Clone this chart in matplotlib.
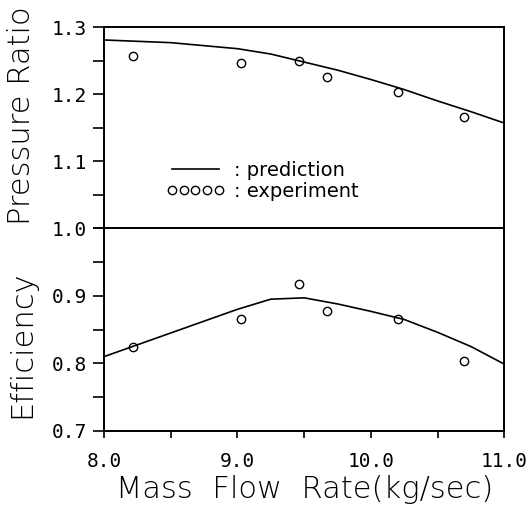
import matplotlib
matplotlib.use("Agg")
import matplotlib.pyplot as plt
from matplotlib.ticker import MultipleLocator, FixedLocator

# prediction curves
pred_flow = [8.0, 8.5, 9.0, 9.25, 9.5, 9.75, 10.0, 10.25, 10.5, 10.75, 11.0]
pred_pr = [1.281, 1.277, 1.268, 1.260, 1.248, 1.236, 1.222, 1.207, 1.190, 1.174, 1.157]
pred_eff = [0.810, 0.845, 0.880, 0.895, 0.897, 0.888, 0.877, 0.865, 0.846, 0.825, 0.799]

# experiment points
exp_flow = [8.22, 9.03, 9.46, 9.67, 10.20, 10.70]
exp_pr = [1.257, 1.246, 1.249, 1.225, 1.204, 1.166]
exp_eff = [0.824, 0.866, 0.918, 0.878, 0.866, 0.803]

x_ticks = [8.0, 9.0, 10.0, 11.0]
x_labels = ["8.0", "9.0", "10.0", "11.0"]
pr_ticks = [1.0, 1.1, 1.2, 1.3]
eff_ticks = [0.7, 0.8, 0.9]

lab_font = dict(family="DejaVu Sans", fontweight="light")
tick_font = "DejaVu Sans Mono"

fig = plt.figure(figsize=(5.28, 5.14), dpi=100)
ax1 = fig.add_axes([0.197, 0.556, 0.758, 0.391])
ax2 = fig.add_axes([0.197, 0.1615, 0.758, 0.3945])

for ax in (ax1, ax2):
    ax.set_xlim(8.0, 11.0)
    for s in ax.spines.values():
        s.set_linewidth(1.4)
    ax.tick_params(axis="y", which="both", direction="out", length=8, width=1.2, pad=4)
    ax.tick_params(axis="x", which="both", direction="out", length=5, width=1.2, pad=10)

# top panel: pressure ratio
ax1.plot(pred_flow, pred_pr, color="black", lw=1.2, label=": prediction")
ax1.plot(exp_flow, exp_pr, linestyle="none", marker="o", ms=6, mfc="none",
         mec="black", mew=1.0, label=": experiment")
ax1.set_ylim(1.0, 1.3)
ax1.yaxis.set_major_locator(FixedLocator(pr_ticks))
ax1.yaxis.set_minor_locator(MultipleLocator(0.05))
ax1.set_yticklabels(["%.1f" % v for v in pr_ticks], family=tick_font, fontsize=14)
ax1.set_xticks([])
ax1.set_ylabel("Pressure Ratio", fontsize=22, **lab_font)
ax1.yaxis.set_label_coords(-0.17, 0.56)
ax1.legend(loc="center left", bbox_to_anchor=(0.155, 0.236), frameon=False,
           numpoints=5, handlelength=3.0, handletextpad=0.5, labelspacing=0.12,
           borderpad=0, borderaxespad=0, prop={"family": "DejaVu Sans", "size": 14})

# bottom panel: efficiency
ax2.plot(pred_flow, pred_eff, color="black", lw=1.2)
ax2.plot(exp_flow, exp_eff, linestyle="none", marker="o", ms=6, mfc="none",
         mec="black", mew=1.0)
ax2.set_ylim(0.7, 1.0)
ax2.yaxis.set_major_locator(FixedLocator(eff_ticks))
ax2.yaxis.set_minor_locator(MultipleLocator(0.05))
ax2.set_yticklabels(["%.1f" % v for v in eff_ticks], family=tick_font, fontsize=14)
ax2.xaxis.set_major_locator(FixedLocator(x_ticks))
ax2.xaxis.set_minor_locator(MultipleLocator(0.5))
ax2.set_xticklabels(x_labels, family=tick_font, fontsize=14)
ax2.set_ylabel("Efficiency", fontsize=22, **lab_font)
ax2.yaxis.set_label_coords(-0.17, 0.43)
ax2.set_xlabel("Mass  Flow  Rate(kg/sec)", fontsize=22, labelpad=3, **lab_font)

fig.savefig("out.png", dpi=100)
